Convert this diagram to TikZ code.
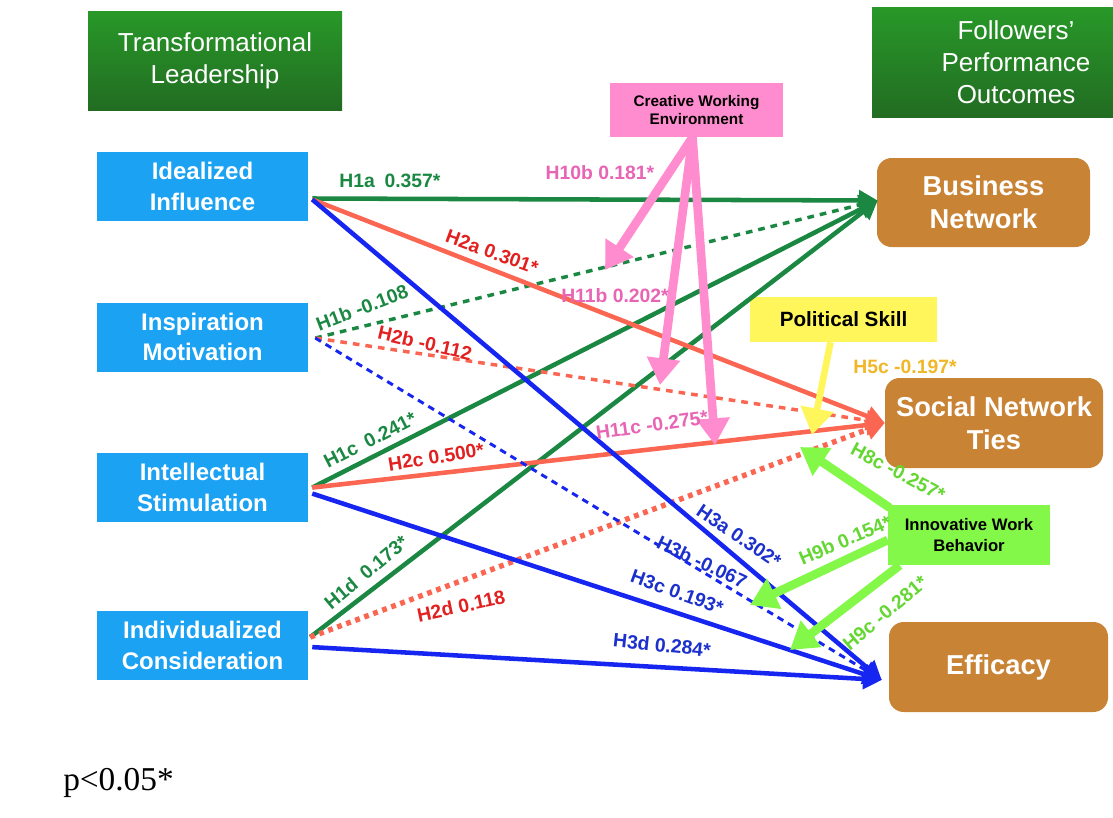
\documentclass[tikz,border=0pt]{standalone}
\usepackage{fontspec}
\setmainfont{Liberation Sans}
\newfontfamily\timesfont{Liberation Serif}
\usetikzlibrary{positioning,arrows.meta,calc}
\definecolor{tlGreen}{RGB}{40,152,40}
\definecolor{tlGreenDark}{RGB}{34,108,34}
\definecolor{tlBlue}{RGB}{28,162,243}
\definecolor{tlBrown}{RGB}{200,131,52}
\definecolor{tlPink}{RGB}{255,140,206}
\definecolor{tlPinkText}{RGB}{232,100,180}
\definecolor{tlYellow}{RGB}{255,246,92}
\definecolor{tlGold}{RGB}{240,184,40}
\definecolor{tlLime}{RGB}{132,248,72}
\definecolor{tlLimeText}{RGB}{100,215,50}
\definecolor{tlPath}{RGB}{26,136,66}
\definecolor{tlRed}{RGB}{250,102,82}
\definecolor{tlRedText}{RGB}{226,32,32}
\definecolor{tlNavy}{RGB}{22,38,240}
\definecolor{tlNavyText}{RGB}{28,48,205}

\begin{document}
\begin{tikzpicture}[x=0.75pt,y=-0.75pt,
    head/.style={top color=tlGreen,bottom color=tlGreenDark,text=white,font=\fontsize{19.5}{24}\selectfont,align=center,inner sep=0pt},
    lead/.style={fill=tlBlue,text=white,font=\fontsize{18}{23}\selectfont\bfseries,align=center,minimum width=158.25pt,minimum height=51.75pt,inner sep=0pt},
    outc/.style={fill=tlBrown,text=white,rounded corners=11pt,font=\fontsize{20.5}{25}\selectfont\bfseries,align=center,minimum height=67.5pt,inner sep=0pt},
    modr/.style={text=black,font=\bfseries,align=center,inner sep=0pt},
    lab/.style={font=\fontsize{14.5}{14.5}\selectfont\bfseries,inner sep=0pt},
    hyp/.style={line width=3.4pt,-{Triangle[length=14pt,width=15pt]}},
    modarr/.style={line width=6.5pt,-{Triangle[length=20pt,width=24pt]}}]
  \fill[white] (0,0) rectangle (1113,817);
  \useasboundingbox (0,0) rectangle (1113,817);
  % headers
  \node[head,minimum width=190.5pt,minimum height=73.5pt] (tl) at (215,61) {Transformational\\Leadership};
  \node[head,minimum width=216pt,minimum height=81.75pt] (fo) at (1016,62.5) {Followers’\\Performance\\Outcomes};
  % leadership dimensions
  \node[lead] (ii) at (202.5,186.5) {Idealized\\Influence};
  \node[lead,below=60.75pt of ii] (im) {Inspiration\\Motivation};
  \node[lead,below=60.75pt of im] (is) {Intellectual\\Stimulation};
  \node[lead,below=66pt of is] (ic) {Individualized\\Consideration};
  % outcomes
  \node[outc,minimum width=159.75pt,minimum height=66.75pt] (bn) at (983.5,202.5) {Business\\Network};
  \node[outc,minimum width=163.5pt] (snt) at (994,423) {Social Network\\Ties};
  \node[outc,minimum width=164.25pt] (ef) at (998.5,667) {Efficacy};
  % moderators
  \node[modr,fill=tlPink,minimum width=129.75pt,minimum height=40.5pt,font=\fontsize{11.5}{13.8}\selectfont\bfseries] (cwe) at (696.5,110) {Creative Working\\Environment};
  \node[modr,fill=tlYellow,minimum width=140.25pt,minimum height=33.75pt,font=\fontsize{15.5}{18}\selectfont\bfseries] (ps) at (843.5,319.5) {Political Skill};
  \node[modr,fill=tlLime,minimum width=121.5pt,minimum height=45pt,font=\fontsize{12.5}{15.5}\selectfont\bfseries] (iwb) at (969,535) {Innovative Work\\Behavior};

  \coordinate (iiout) at ($(ii.east)+(4,13)$);
  \coordinate (imout) at ($(im.east)+(7,1)$);
  \coordinate (isout) at ($(is.east)+(4,0)$);
  \coordinate (icout) at ($(ic.east)+(2,-8)$);
  \coordinate (bnin) at ($(bn.west)+(1,-2)$);
  \coordinate (sntin) at (snt.west);
  \coordinate (efin) at ($(ef.west)+(-7,13)$);

  % green paths
  \draw[hyp,tlPath] ($(ii.east)+(4,12)$) -- (bnin);
  \draw[hyp,tlPath,line width=2.6pt,dash pattern=on 5pt off 4.5pt] (imout) -- (bnin);
  \draw[hyp,tlPath] (isout) -- (bnin);
  \draw[hyp,tlPath] (icout) -- (bnin);
  % red paths
  \draw[hyp,tlRed] (iiout) -- (sntin);
  \draw[hyp,tlRed,line width=2.6pt,dash pattern=on 5pt off 4.5pt] (imout) -- (sntin);
  \draw[hyp,tlRed] (isout) -- (sntin);
  \draw[hyp,tlRed,line width=4pt,dash pattern=on 3.6pt off 3.6pt] (icout) -- (sntin);
  % blue paths
  \draw[hyp,tlNavy] (iiout) -- (efin);
  \draw[hyp,tlNavy,line width=2.2pt,dash pattern=on 5pt off 4pt] (imout) -- (efin);
  \draw[hyp,tlNavy] ($(is.east)+(4,6)$) -- (efin);
  \draw[hyp,tlNavy] ($(ic.east)+(4,2)$) -- (efin);

  % moderating arrows
  \coordinate (cwefoot) at ($(cwe.south)+(-4,0)$);
  \coordinate (m10b) at (605,270);
  \coordinate (m11b) at (660,385);
  \coordinate (m11c) at (715,445);
  \draw[modarr,tlPink] (cwefoot) -- (m10b);
  \draw[modarr,tlPink] (cwefoot) -- (m11b);
  \draw[modarr,tlPink] (cwefoot) -- (m11c);
  \coordinate (m5c) at (812,435);
  \draw[modarr,tlYellow,line width=5pt] ($(ps.south)+(-13,0)$) -- (m5c);
  \coordinate (m8c) at (800,447);
  \coordinate (m9b) at (750,605);
  \coordinate (m9c) at (790,650);
  \draw[modarr,tlLime] ($(iwb.north west)+(2,3)$) -- (m8c);
  \draw[modarr,tlLime] ($(iwb.west)+(0,5)$) -- (m9b);
  \draw[modarr,tlLime] ($(iwb.south west)+(12,0)$) -- (m9c);

  % coefficients
  \node[lab,tlPath] (l1a) at (390,181) {H1a\enspace0.357*};
  \node[lab,tlPath,rotate=21] (l1b) at (362,308) {H1b -0.108};
  \node[lab,tlPath,rotate=27] (l1c) at (370,440) {H1c\enspace0.241*};
  \node[lab,tlPath,rotate=40] (l1d) at (366,572) {H1d\enspace0.173*};
  \node[lab,tlRedText,rotate=-20] (l2a) at (492,252) {H2a 0.301*};
  \node[lab,tlRedText,rotate=-13] (l2b) at (425,343) {H2b -0.112};
  \node[lab,tlRedText,rotate=9] (l2c) at (436,457) {H2c 0.500*};
  \node[lab,tlRedText,rotate=12] (l2d) at (461,606) {H2d 0.118};
  \node[lab,tlNavyText,rotate=-34] (l3a) at (739,536) {H3a 0.302*};
  \node[lab,tlNavyText,rotate=-25] (l3b) at (702,562) {H3b -0.067};
  \node[lab,tlNavyText,rotate=-20] (l3c) at (677,592) {H3c 0.193*};
  \node[lab,tlNavyText,rotate=-6] (l3d) at (662,645) {H3d 0.284*};
  \node[lab,tlPinkText] (l10b) at (600,173) {H10b 0.181*};
  \node[lab,tlPinkText] (l11b) at (615,296) {H11b 0.202*};
  \node[lab,tlPinkText,rotate=8] (l11c) at (652,425) {H11c -0.275*};
  \node[lab,tlGold] (l5c) at (905,367) {H5c -0.197*};
  \node[lab,tlLimeText,rotate=-28] (l8c) at (898,472) {H8c -0.257*};
  \node[lab,tlLimeText,rotate=23] (l9b) at (845,540) {H9b 0.154*};
  \node[lab,tlLimeText,rotate=40] (l9c) at (885,613) {H9c -0.281*};

  \node[anchor=base west,inner sep=0pt,font=\timesfont\fontsize{25}{25}\selectfont] (pval) at (63,790) {p<0.05*};
\end{tikzpicture}
\end{document}
